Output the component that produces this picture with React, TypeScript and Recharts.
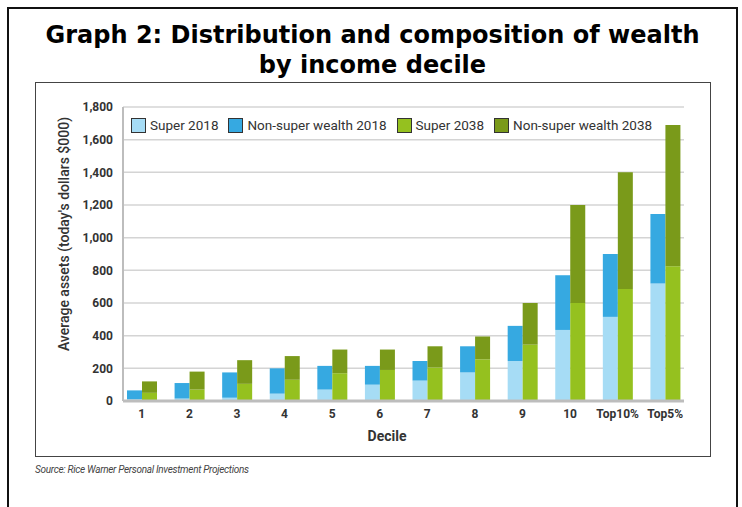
import { BarChart, Bar, XAxis, YAxis, CartesianGrid } from 'recharts';

const deciles = ['1', '2', '3', '4', '5', '6', '7', '8', '9', '10', 'Top10%', 'Top5%'];
const super2018 = [10, 15, 20, 45, 70, 100, 125, 175, 245, 435, 515, 720];
const total2018 = [65, 110, 175, 200, 215, 215, 245, 335, 460, 770, 900, 1145];
const super2038 = [50, 70, 105, 130, 170, 190, 205, 255, 345, 600, 685, 825];
const total2038 = [120, 180, 250, 275, 315, 315, 335, 395, 600, 1200, 1400, 1690];
const yTicks = [0, 200, 400, 600, 800, 1000, 1200, 1400, 1600, 1800];

const series = [
    { key: 'super2018', name: 'Super 2018', color: '#a6dcf5', stack: 'y2018' },
    { key: 'nonSuper2018', name: 'Non-super wealth 2018', color: '#36a9e1', stack: 'y2018' },
    { key: 'super2038', name: 'Super 2038', color: '#95c11f', stack: 'y2038' },
    { key: 'nonSuper2038', name: 'Non-super wealth 2038', color: '#7a9a1a', stack: 'y2038' },
];

const data = deciles.map((d, i) => ({
    decile: d,
    super2018: super2018[i],
    nonSuper2018: total2018[i] - super2018[i],
    super2038: super2038[i],
    nonSuper2038: total2038[i] - super2038[i],
}));

const font = 'Roboto, "Noto Sans", sans-serif';

export default function App() {
    return (
        <div style={{ position: 'absolute', left: 0, top: 0, width: 742, height: 507, overflow: 'hidden', background: '#fff' }}>
            {/* frames */}
            <svg width={742} height={507} style={{ position: 'absolute', left: 0, top: 0 }}>
                <rect x={8} y={8} width={729} height={520} fill="none" stroke="#111" strokeWidth={2} />
                <rect x={35.5} y={82.5} width={675} height={374} fill="none" stroke="#444" strokeWidth={1} />
            </svg>
            <div
                style={{
                    position: 'absolute',
                    left: 8,
                    top: 20,
                    width: 729,
                    textAlign: 'center',
                    fontFamily: '"DejaVu Sans", Verdana, sans-serif',
                    fontWeight: 'bold',
                    fontSize: 24,
                    lineHeight: '30px',
                    color: '#000',
                }}
            >
                Graph 2: Distribution and composition of wealth
                <br />
                by income decile
            </div>
            <div style={{ position: 'absolute', left: 0, top: 0 }}>
                <BarChart
                    width={742}
                    height={507}
                    data={data}
                    margin={{ top: 107, right: 58, bottom: 76, left: 63 }}
                    barGap={0}
                    barSize={15}
                >
                    <CartesianGrid vertical={false} stroke="#d4d4d4" strokeWidth={1.5} />
                    <XAxis
                        dataKey="decile"
                        height={30}
                        interval={0}
                        padding={{ left: -5, right: -5 }}
                        tickLine={false}
                        axisLine={{ stroke: '#bdbdbd', strokeWidth: 3 }}
                        tick={{ fill: '#333', fontSize: 12, fontWeight: 'bold', fontFamily: font }}
                    />
                    <YAxis
                        width={60}
                        domain={[0, 1800]}
                        ticks={yTicks}
                        interval={0}
                        tickLine={false}
                        tickMargin={4}
                        tickFormatter={(v: number) => v.toLocaleString('en-US')}
                        axisLine={{ stroke: '#bdbdbd', strokeWidth: 2 }}
                        tick={{ fill: '#333', fontSize: 12, fontWeight: 'bold', fontFamily: font }}
                    />
                    {series.map((s) => (
                        <Bar key={s.key} dataKey={s.key} name={s.name} stackId={s.stack} fill={s.color} isAnimationActive={false} />
                    ))}
                </BarChart>
            </div>
            {/* legend */}
            <div
                style={{
                    position: 'absolute',
                    left: 131,
                    top: 117,
                    display: 'flex',
                    fontFamily: font,
                    fontSize: 13.5,
                    lineHeight: '16px',
                    color: '#333',
                }}
            >
                {series.map((s) => (
                    <div key={s.key} style={{ display: 'flex', alignItems: 'center', marginRight: 10 }}>
                        <span style={{ display: 'inline-block', width: 13, height: 13, background: s.color, border: '1.5px solid #333', marginRight: 4 }} />
                        <span>{s.name}</span>
                    </div>
                ))}
            </div>
            <div
                style={{
                    position: 'absolute',
                    left: 64 - 120,
                    top: 234 - 8,
                    width: 240,
                    textAlign: 'center',
                    transform: 'rotate(-90deg)',
                    fontFamily: font,
                    fontWeight: 500,
                    fontSize: 14,
                    lineHeight: '16px',
                    color: '#333',
                    whiteSpace: 'nowrap',
                }}
            >
                Average assets (today's dollars $000)
            </div>
            <div
                style={{
                    position: 'absolute',
                    left: 337,
                    top: 427,
                    width: 100,
                    textAlign: 'center',
                    fontFamily: font,
                    fontWeight: 'bold',
                    fontSize: 14,
                    lineHeight: '18px',
                    color: '#333',
                }}
            >
                Decile
            </div>
            <div
                style={{
                    position: 'absolute',
                    left: 35,
                    top: 464,
                    fontFamily: font,
                    fontStyle: 'italic',
                    fontSize: 10,
                    letterSpacing: -0.3,
                    color: '#444',
                }}
            >
                Source: Rice Warner Personal Investment Projections
            </div>
        </div>
    );
}
